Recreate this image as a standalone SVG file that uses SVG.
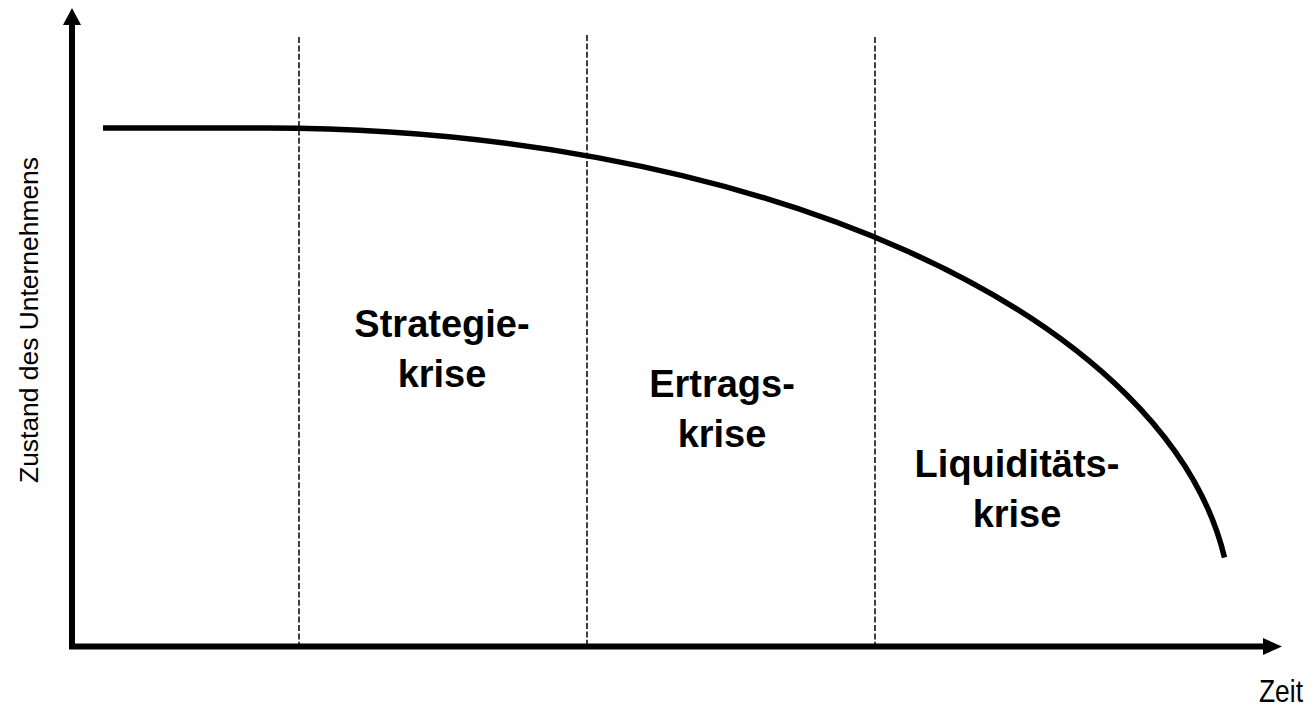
<svg xmlns="http://www.w3.org/2000/svg" width="1316" height="706" viewBox="0 0 1316 706">
<style>
.ax{stroke:#000;stroke-width:6;fill:none}
.div{stroke:#000;stroke-width:1.5;stroke-dasharray:6 2.4;fill:none}
.crv{stroke:#000;stroke-width:5.5;fill:none;stroke-linecap:butt}
.lbl{font-family:"Liberation Sans",Arial,sans-serif;font-weight:bold;font-size:38px;text-anchor:middle;fill:#000}
.axl{font-family:"Liberation Sans",Arial,sans-serif;fill:#000}
</style>
<rect width="1316" height="706" fill="#fff"/>
<g id="connectors">
<line class="div" x1="299" y1="37" x2="299" y2="644"/>
<line class="div" x1="587" y1="35" x2="587" y2="644"/>
<line class="div" x1="875" y1="37" x2="875" y2="644"/>
<path class="crv" d="M103,128 L266,128 A965,488 0 0 1 1224.5,557.5"/>
</g>
<g id="axes">
<polyline class="ax" points="72,24 72,646.5 1265,646.5"/>
<polygon points="72,8 63,25 81,25" fill="#000"/>
<polygon points="1282,646.5 1263,638 1263,655" fill="#000"/>
</g>
<g id="y-label"><text class="axl" font-size="26" transform="translate(38,320) rotate(-90)" text-anchor="middle" textLength="326" lengthAdjust="spacingAndGlyphs">Zustand des Unternehmens</text></g>
<g id="x-label"><text class="axl" font-size="32" x="1259" y="701.5" textLength="44" lengthAdjust="spacingAndGlyphs">Zeit</text></g>
<g id="strategiekrise"><text class="lbl" x="442" y="336.5">Strategie-</text><text class="lbl" x="442" y="386.5">krise</text></g>
<g id="ertragskrise"><text class="lbl" x="722" y="396.5">Ertrags-</text><text class="lbl" x="722" y="447">krise</text></g>
<g id="liquiditaetskrise"><text class="lbl" x="1017" y="476.5">Liquiditäts-</text><text class="lbl" x="1017" y="526.5">krise</text></g>
</svg>
